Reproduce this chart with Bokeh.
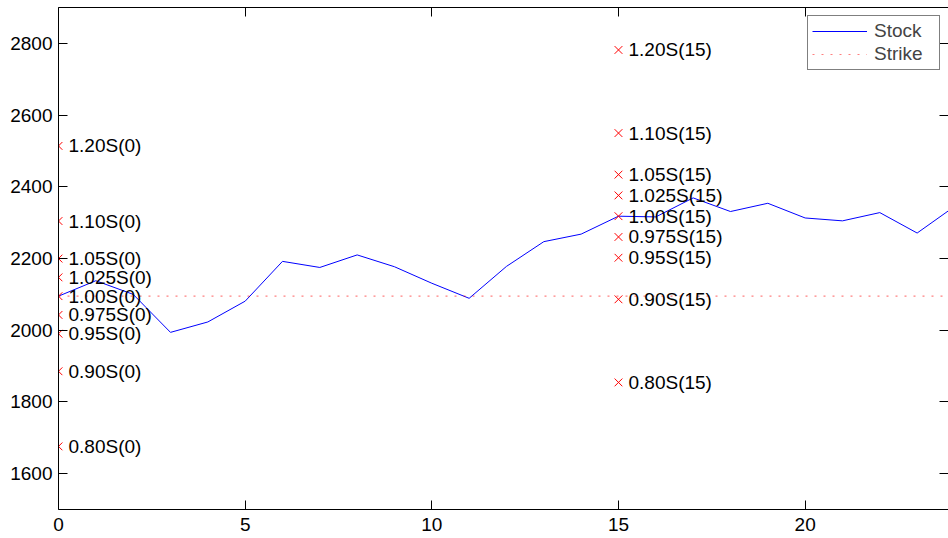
from bokeh.plotting import figure
from bokeh.models import (LinearAxis, Range1d, Legend, LegendItem, FixedTicker,
                          ColumnDataSource)
from bokeh.embed import file_html
from bokeh.resources import INLINE
from bokeh.core.properties import value

# ---- data ----
days = list(range(25))
stock = [2095, 2138, 2100, 1994, 2023, 2081, 2192, 2175, 2210, 2177, 2131, 2089,
         2178, 2247, 2268, 2318, 2316, 2369, 2331, 2354, 2313, 2305, 2328, 2271, 2345]
strike = 2095
multipliers = [1.20, 1.10, 1.05, 1.025, 1.00, 0.975, 0.95, 0.90, 0.80]
mult_labels = ["1.20", "1.10", "1.05", "1.025", "1.00", "0.975", "0.95", "0.90", "0.80"]
obs_days = [0, 15]
x_ticks = [0, 5, 10, 15, 20]
y_ticks = [1600, 1800, 2000, 2200, 2400, 2600, 2800]

FONT = "Liberation Sans"
FS = "19px"

p = figure(width=948, height=538, output_backend="svg", toolbar_location=None,
           x_range=Range1d(0, 23.84), y_range=Range1d(1500, 2900),
           min_border_left=58, min_border_right=0, min_border_top=7, min_border_bottom=29,
           x_axis_location=None, y_axis_location=None)
p.grid.visible = False
p.outline_line_color = None
p.background_fill_color = "white"
p.border_fill_color = "white"


def style_axis(ax, ticks, labels=True):
    ax.ticker = FixedTicker(ticks=ticks)
    ax.major_tick_in = 9
    ax.major_tick_out = 0
    ax.minor_tick_in = 0
    ax.minor_tick_out = 0
    ax.axis_line_color = "black"
    ax.major_tick_line_color = "black"
    ax.major_label_text_font = FONT
    ax.major_label_text_font_size = FS if labels else "0px"
    ax.major_label_text_color = "black"
    if not labels:
        ax.major_label_standoff = 0


bottom = LinearAxis()
top = LinearAxis()
left = LinearAxis()
right = LinearAxis()
style_axis(bottom, x_ticks, True)
style_axis(top, x_ticks, False)
style_axis(left, y_ticks, True)
style_axis(right, y_ticks, False)
bottom.major_label_standoff = 8
left.major_label_standoff = 6
right.axis_line_color = None
p.add_layout(bottom, "below")
p.add_layout(top, "above")
p.add_layout(left, "left")
p.add_layout(right, "right")

# stock line
stock_r = p.line(days, stock, line_color="#0000ff", line_width=1)
# strike line
strike_r = p.line([days[0], days[-1]], [strike, strike], line_color="#ff0000",
                  line_alpha=0.5, line_width=1.2, line_dash="2 7")

# markers and labels
mx, my, mt = [], [], []
for d in obs_days:
    s = stock[days.index(d)]
    for m, ml in zip(multipliers, mult_labels):
        mx.append(d)
        my.append(m * s)
        mt.append(f"{ml}S({d})")
src = ColumnDataSource(dict(x=mx, y=my, t=mt))
p.scatter("x", "y", source=src, marker="x", size=11, line_color="#ff0000", line_width=1)
p.text("x", "y", text="t", source=src, x_offset=10, text_baseline="middle",
       text_font=value(FONT), text_font_size=FS, text_color="black")

legend = Legend(items=[LegendItem(label="Stock", renderers=[stock_r]),
                       LegendItem(label="Strike", renderers=[strike_r])],
                location="top_right", margin=8, padding=4, spacing=1,
                glyph_width=55, glyph_height=20, label_height=20, label_width=61,
                label_standoff=7, label_text_font=FONT, label_text_font_size=FS,
                border_line_color="black", border_line_width=1,
                background_fill_color="white", background_fill_alpha=1)
p.add_layout(legend, "center")

open("out.html", "w").write(file_html(p, INLINE))
